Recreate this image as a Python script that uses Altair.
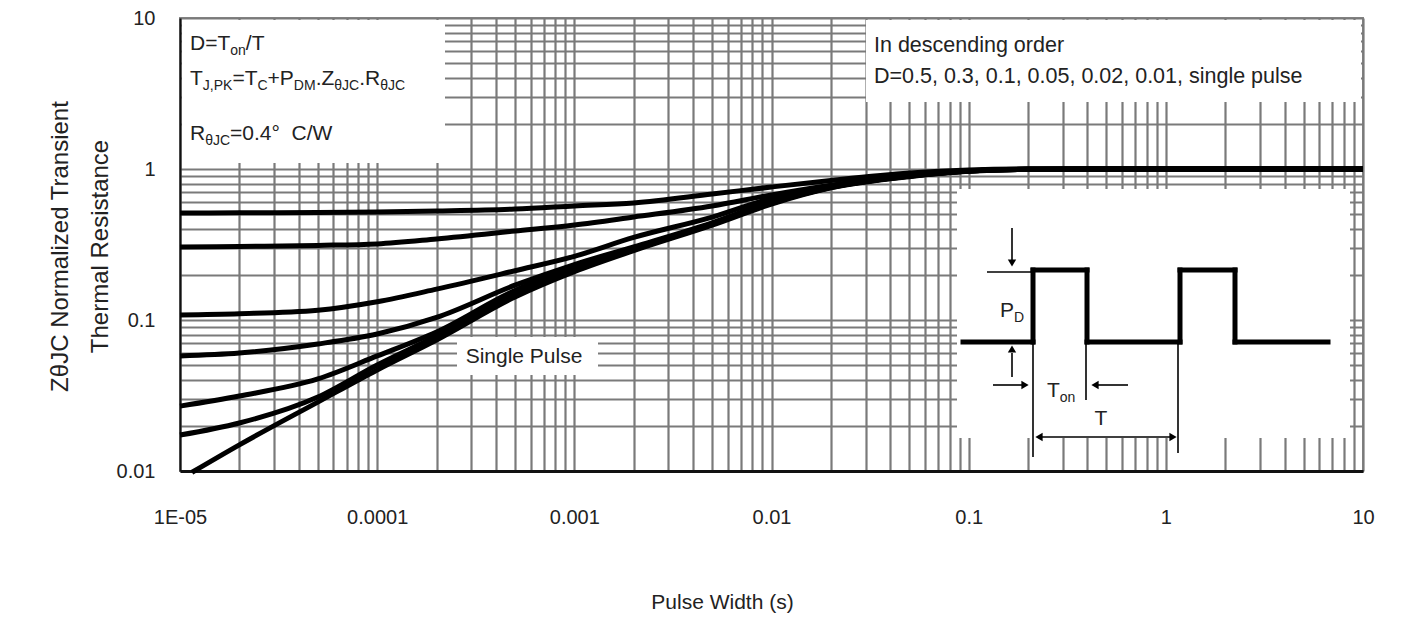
import altair as alt
import pandas as pd

FONT = "Liberation Sans"
TXT = "#222222"

# ---------------- data ----------------
x_pts = [1e-5, 2e-5, 5e-5, 1e-4, 2e-4, 5e-4, 1e-3, 2e-3, 5e-3, 1e-2, 2e-2, 5e-2, 0.1, 0.2, 0.5, 1, 10]
x_single = [1.15e-5, 2e-5, 5e-5, 1e-4, 2e-4, 5e-4, 1e-3, 2e-3, 5e-3, 1e-2, 2e-2, 5e-2, 0.1, 0.2, 0.5, 1, 10]

z_d050 = [0.511, 0.513, 0.515, 0.519, 0.527, 0.543, 0.569, 0.596, 0.683, 0.76, 0.84, 0.94, 0.985, 1.0, 1.0, 1.0, 1.0]
z_d030 = [0.304, 0.307, 0.312, 0.319, 0.344, 0.388, 0.426, 0.481, 0.569, 0.673, 0.78, 0.91, 0.975, 0.998, 1.0, 1.0, 1.0]
z_d010 = [0.108, 0.110, 0.116, 0.132, 0.160, 0.212, 0.264, 0.352, 0.48, 0.64, 0.775, 0.905, 0.97, 0.995, 1.0, 1.0, 1.0]
z_d005 = [0.0578, 0.0604, 0.0694, 0.0807, 0.104, 0.170, 0.233, 0.305, 0.44, 0.606, 0.76, 0.90, 0.97, 0.995, 1.0, 1.0, 1.0]
z_d002 = [0.0269, 0.0314, 0.0407, 0.0578, 0.0833, 0.157, 0.223, 0.298, 0.435, 0.600, 0.757, 0.898, 0.97, 0.995, 1.0, 1.0, 1.0]
z_d001 = [0.0173, 0.0208, 0.0309, 0.0504, 0.0784, 0.150, 0.215, 0.293, 0.43, 0.594, 0.753, 0.895, 0.97, 0.995, 1.0, 1.0, 1.0]
z_single = [0.0098, 0.0149, 0.0286, 0.0467, 0.0737, 0.142, 0.209, 0.288, 0.425, 0.586, 0.75, 0.89, 0.965, 0.995, 1.0, 1.0, 1.0]

series_names = ["D=0.5", "D=0.3", "D=0.1", "D=0.05", "D=0.02", "D=0.01", "Single pulse"]

x_ticks = [1e-5, 1e-4, 1e-3, 1e-2, 1e-1, 1, 10]
x_tick_labels = ["1E-05", "0.0001", "0.001", "0.01", "0.1", "1", "10"]
y_ticks = [0.01, 0.1, 1, 10]
y_tick_labels = ["0.01", "0.1", "1", "10"]

# ---------------- tables ----------------
series = [
    (series_names[0], x_pts, z_d050),
    (series_names[1], x_pts, z_d030),
    (series_names[2], x_pts, z_d010),
    (series_names[3], x_pts, z_d005),
    (series_names[4], x_pts, z_d002),
    (series_names[5], x_pts, z_d001),
    (series_names[6], x_single, z_single),
]
rows = []
for name, xs, zs in series:
    for i, (xv, zv) in enumerate(zip(xs, zs)):
        rows.append({"series": name, "t": xv, "z": zv, "i": i})
df = pd.DataFrame(rows)


def minor_grid(decades):
    vals = []
    for d in decades[:-1]:
        vals += [d * k for k in range(1, 10)]
    vals.append(decades[-1])
    return vals


def label_expr(ticks, labels):
    expr = "''"
    for v, t in reversed(list(zip(ticks, labels))):
        expr = f"(abs(datum.value - {v!r}) < {v!r} * 1e-6) ? '{t}' : " + expr
    return expr


x_grid = minor_grid(x_ticks)
y_grid = minor_grid(y_ticks)

one = pd.DataFrame({"k": [0]})

# ---------------- helpers ----------------
W = {' ': 278, ',': 278, '.': 278, '/': 278, '=': 584, '+': 584, '°': 400, 'θ': 556,
     'A': 667, 'C': 722, 'D': 722, 'J': 500, 'K': 667, 'M': 833, 'P': 667, 'R': 722,
     'T': 611, 'W': 944, 'Z': 611, 'n': 556, 'o': 556}


def tw(s, size):
    return sum(W.get(c, 556) for c in s) * size / 1000.0


def text_at(s, x, y, size=21, align="left"):
    return alt.Chart(one).mark_text(
        font=FONT, fontSize=size, color=TXT, align=align, baseline="alphabetic"
    ).encode(x=alt.value(x), y=alt.value(y), text=alt.value(s))


def runs(segs, x0, y0, size=21, sub=14, sub_dy=5):
    out = []
    x = x0
    for s, is_sub in segs:
        sz = sub if is_sub else size
        out.append(text_at(s, x, y0 + (sub_dy if is_sub else 0), sz))
        x += tw(s, sz)
    return out


def white_box(x1, x2, y1, y2):
    return alt.Chart(one).mark_rect(color="white").encode(
        x=alt.value(x1), x2=alt.value(x2), y=alt.value(y1), y2=alt.value(y2))


def seg(x1, y1, x2, y2, w=1.6, cap="butt"):
    return alt.Chart(one).mark_rule(color="black", strokeWidth=w, strokeCap=cap).encode(
        x=alt.value(x1), x2=alt.value(x2), y=alt.value(y1), y2=alt.value(y2))


def head(x, y, shape):
    return alt.Chart(one).mark_point(shape=shape, filled=True, color="black", size=70, opacity=1).encode(
        x=alt.value(x), y=alt.value(y))


# ---------------- layers ----------------
boxes = [
    white_box(2, 265, 2, 145),        # top-left formula box
    white_box(686, 1181, 2, 84),      # top-right legend box
    white_box(777, 1170, 171, 420),   # inset box
    white_box(277, 418, 319, 357),    # single pulse label box
]

GRID = "#7a7a7a"
x_axis = alt.Axis(
    values=x_grid, labelExpr=label_expr(x_ticks, x_tick_labels),
    grid=True, gridColor=GRID, gridWidth=2.2,
    ticks=False, tickSize=0, labelPadding=36,
    labelFont=FONT, labelFontSize=20, labelColor=TXT, labelFlush=False, labelOverlap=False,
    domainColor="#111111", domainWidth=3,
    title="Pulse Width (s)", titleFont=FONT, titleFontSize=21, titleFontWeight="normal",
    titleColor=TXT, titleX=542, titleY=137, titleBaseline="alphabetic", titleAlign="center",
)
y_axis = alt.Axis(
    values=y_grid, labelExpr=label_expr(y_ticks, y_tick_labels),
    grid=True, gridColor=GRID, gridWidth=2.2,
    ticks=False, tickSize=0, labelPadding=25,
    labelFont=FONT, labelFontSize=20, labelColor=TXT, labelOverlap=False,
    domainColor="#111111", domainWidth=2,
    title=["Z\u03b8JC Normalized Transient", "Thermal Resistance"],
    titleFont=FONT, titleFontSize=24, titleFontWeight="normal", titleColor=TXT,
    titleLineHeight=40, titleX=-120, titleY=228, titleBaseline="middle", titleAngle=270,
    titleAlign="center",
)

curves = alt.Chart(df).mark_line(color="black", strokeWidth=5, interpolate="monotone").encode(
    x=alt.X("t:Q", scale=alt.Scale(type="log", domain=[1e-5, 10], nice=False), axis=x_axis),
    y=alt.Y("z:Q", scale=alt.Scale(type="log", domain=[0.01, 10], nice=False), axis=y_axis),
    detail="series:N",
    order="i:Q",
)

notes = []
notes += runs([("D=T", 0), ("on", 1), ("/T", 0)], 10, 32)
notes += runs([("T", 0), ("J,PK", 1), ("=T", 0), ("C", 1), ("+P", 0), ("DM", 1), (".", 0),
               ("Z", 0), ("\u03b8JC", 1), (".", 0), ("R", 0), ("\u03b8JC", 1)], 10, 67)
notes += runs([("R", 0), ("\u03b8JC", 1), ("=0.4\u00b0", 0)], 10, 122)
notes.append(text_at("C/W", 10 + tw("R", 21) + tw("\u03b8JC", 14) + tw("=0.4\u00b0  ", 21), 122))
notes.append(text_at("In descending order", 694, 34, size=21.5))
notes.append(text_at("D=0.5, 0.3, 0.1, 0.05, 0.02, 0.01, single pulse", 694, 65, size=21.5))
notes.append(text_at("Single Pulse", 344, 345, align="center"))

# inset: pulse train illustration (pixel positions inside the plot area)
inset = []
wave = [(783, 324), (853, 324), (853, 252), (907, 252), (907, 324), (1000, 324),
        (1000, 252), (1055, 252), (1055, 324), (1148, 324)]
for (a, b), (c, d) in zip(wave[:-1], wave[1:]):
    inset.append(seg(a, b, c, d, w=5, cap="square"))
inset += [
    seg(807, 254, 853, 254),
    seg(853, 324, 853, 439),
    seg(906, 324, 906, 382),
    seg(998, 324, 998, 435),
    seg(832, 210, 832, 243), head(832, 245, "triangle-down"),
    seg(832, 335, 832, 359), head(832, 331, "triangle-up"),
    seg(813, 367, 843, 367), head(845, 367, "triangle-right"),
    seg(918, 367, 948, 367), head(915, 367, "triangle-left"),
    seg(860, 419, 992, 419), head(859, 419, "triangle-left"), head(993, 419, "triangle-right"),
]
inset += runs([("P", 0), ("D", 1)], 820, 299)
inset += runs([("T", 0), ("on", 1)], 867, 379)
inset.append(text_at("T", 921, 407, align="center"))

chart = alt.layer(*boxes, curves, *notes, *inset).properties(
    width=1183, height=453,
    autosize=alt.AutoSizeParams(type="none"),
    padding={"left": 172, "top": 10, "right": 42, "bottom": 145},
).configure_view(stroke="#888888", strokeWidth=2)

chart.save("out.html", embed_options={"renderer": "svg", "actions": False})
